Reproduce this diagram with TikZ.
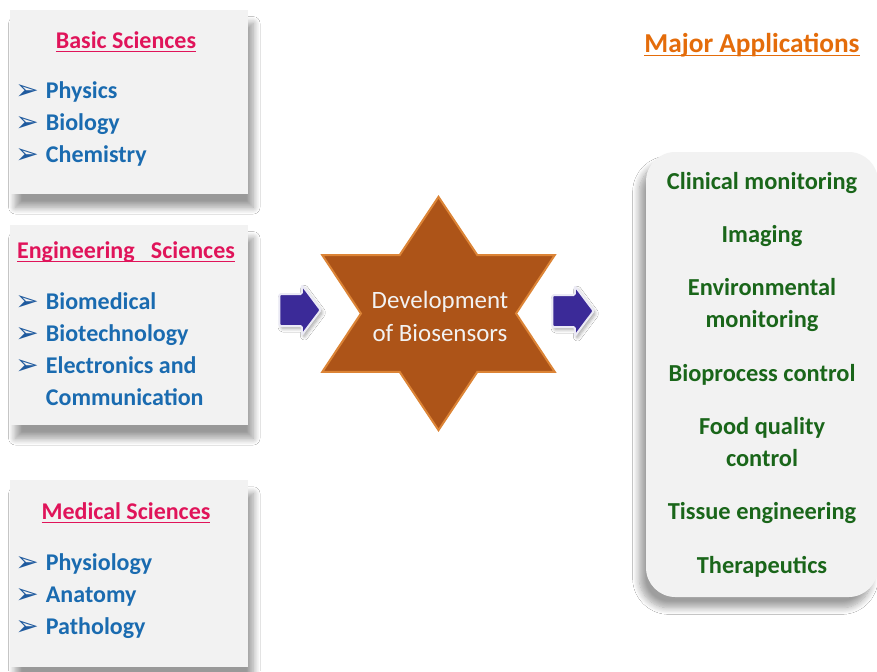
\documentclass[tikz,border=0pt]{standalone}
\usepackage{fontspec}
\setmainfont{Carlito}
\newfontfamily\dingfont{DejaVu Sans}
\usetikzlibrary{positioning,shapes.geometric,shapes.arrows,shadows.blur}

\definecolor{panelgray}{HTML}{F2F2F2}
\definecolor{headpink}{HTML}{E0145A}
\definecolor{itemblue}{HTML}{1A6BB0}
\definecolor{bulblue}{HTML}{1F5A9E}
\definecolor{appgreen}{HTML}{1A661A}
\definecolor{apporange}{HTML}{E46C0A}
\definecolor{starbrown}{HTML}{AD5418}
\definecolor{staredge}{HTML}{DC8436}
\definecolor{arrowblue}{HTML}{3B2A98}

\newcommand\bul{\makebox[23pt][l]{\raisebox{-0.5pt}{\dingfont\fontsize{21}{21}\selectfont\color{bulblue}➢}}}
% underlined heading text
\newcommand\uln[1]{\setbox0\hbox{#1}\rlap{\rule[-3pt]{\wd0}{1.1pt}}\box0}

\begin{document}
\begin{tikzpicture}[
  x=0.75pt, y=-0.75pt,
  panel/.style={rectangle, fill=panelgray, minimum width=178.5pt,
    blur shadow={shadow xshift=4pt, shadow yshift=-10pt, shadow blur radius=5pt,
      shadow blur steps=12, shadow opacity=40}},
  head/.style={inner sep=0pt, font=\fontsize{18}{24}\selectfont\bfseries, text=headpink},
  item/.style={anchor=west, inner sep=0pt, text height=11.5pt, text depth=0pt,
    font=\fontsize{18}{24}\selectfont\bfseries, text=itemblue},
  appbox/.style={rectangle, rounded corners=22pt, fill=panelgray, minimum width=174pt,
    minimum height=333.75pt, align=center, font=\fontsize{18.3}{24}\selectfont\bfseries, text=appgreen,
    blur shadow={shadow xshift=-5pt, shadow yshift=-8pt, shadow blur radius=5pt,
      shadow blur steps=12, shadow opacity=38}},
  biostar/.style={star, star points=6, star point ratio=1.73, minimum size=175pt, inner sep=0pt,
    fill=starbrown, draw=staredge, line width=1.5pt, xscale=1.15},
  bluearrow/.style={single arrow, single arrow head extend=6.75pt, single arrow tip angle=106,
    minimum height=31pt, inner xsep=0pt, inner ysep=11.25pt, fill=arrowblue,
    draw=white!90!arrowblue, line width=1.5pt, rounded corners=1pt,
    blur shadow={shadow xshift=1.5pt, shadow yshift=-2pt, shadow blur radius=2.5pt,
      shadow blur steps=6, shadow opacity=35}}
]
\useasboundingbox[fill=white] (0,0) rectangle (877,671);

% Left side (disciplines)
\node[panel, minimum height=138pt] (basicbox) at (129,102) {};
\node[panel, minimum height=150pt] (engbox) at (129,325) {};
\node[panel, minimum height=140pt] (medbox) at (129,573.5) {};

\node[head] (basic) at (126,42) {\uln{Basic Sciences}};
\foreach \txt [count=\i from 0] in {Physics, Biology, Chemistry}
  \node[item] (basic-\i) at (15,91+32*\i) {\bul\txt};

\node[head] (eng) at (126,252) {\uln{Engineering\ \ \ Sciences}};
\foreach \txt [count=\i from 0] in {Biomedical, Biotechnology, Electronics and}
  \node[item] (eng-\i) at (15,302+32*\i) {\bul\txt};
\node[item] (eng-3) at (15,398) {\phantom{\bul}Communication};

\node[head] (med) at (126,513) {\uln{Medical Sciences}};
\foreach \txt [count=\i from 0] in {Physiology, Anatomy, Pathology}
  \node[item] (med-\i) at (15,563+32*\i) {\bul\txt};

% Centre
\node[bluearrow] (inarrow) at (294,310) {};
\node[biostar] (star) at (438.5,313.5) {};
\node[align=center, text=white!95!black, font=\fontsize{18.7}{25}\selectfont] (dev) at (440,316.5) {Development\\of Biosensors};
\node[bluearrow] (outarrow) at (567,311) {};

% Right side (applications)
\node[head, text=apporange, font=\fontsize{20.5}{24}\selectfont\bfseries] (major) at (752,45) {\uln{Major Applications}};
\node[appbox] (apps) at (762,374.5) {Clinical monitoring\\[16pt] Imaging\\[16pt] Environmental\\monitoring\\[16pt]
  Bioprocess control\\[16pt] Food quality\\control\\[16pt] Tissue engineering\\[16pt] Therapeutics};

\end{tikzpicture}
\end{document}
